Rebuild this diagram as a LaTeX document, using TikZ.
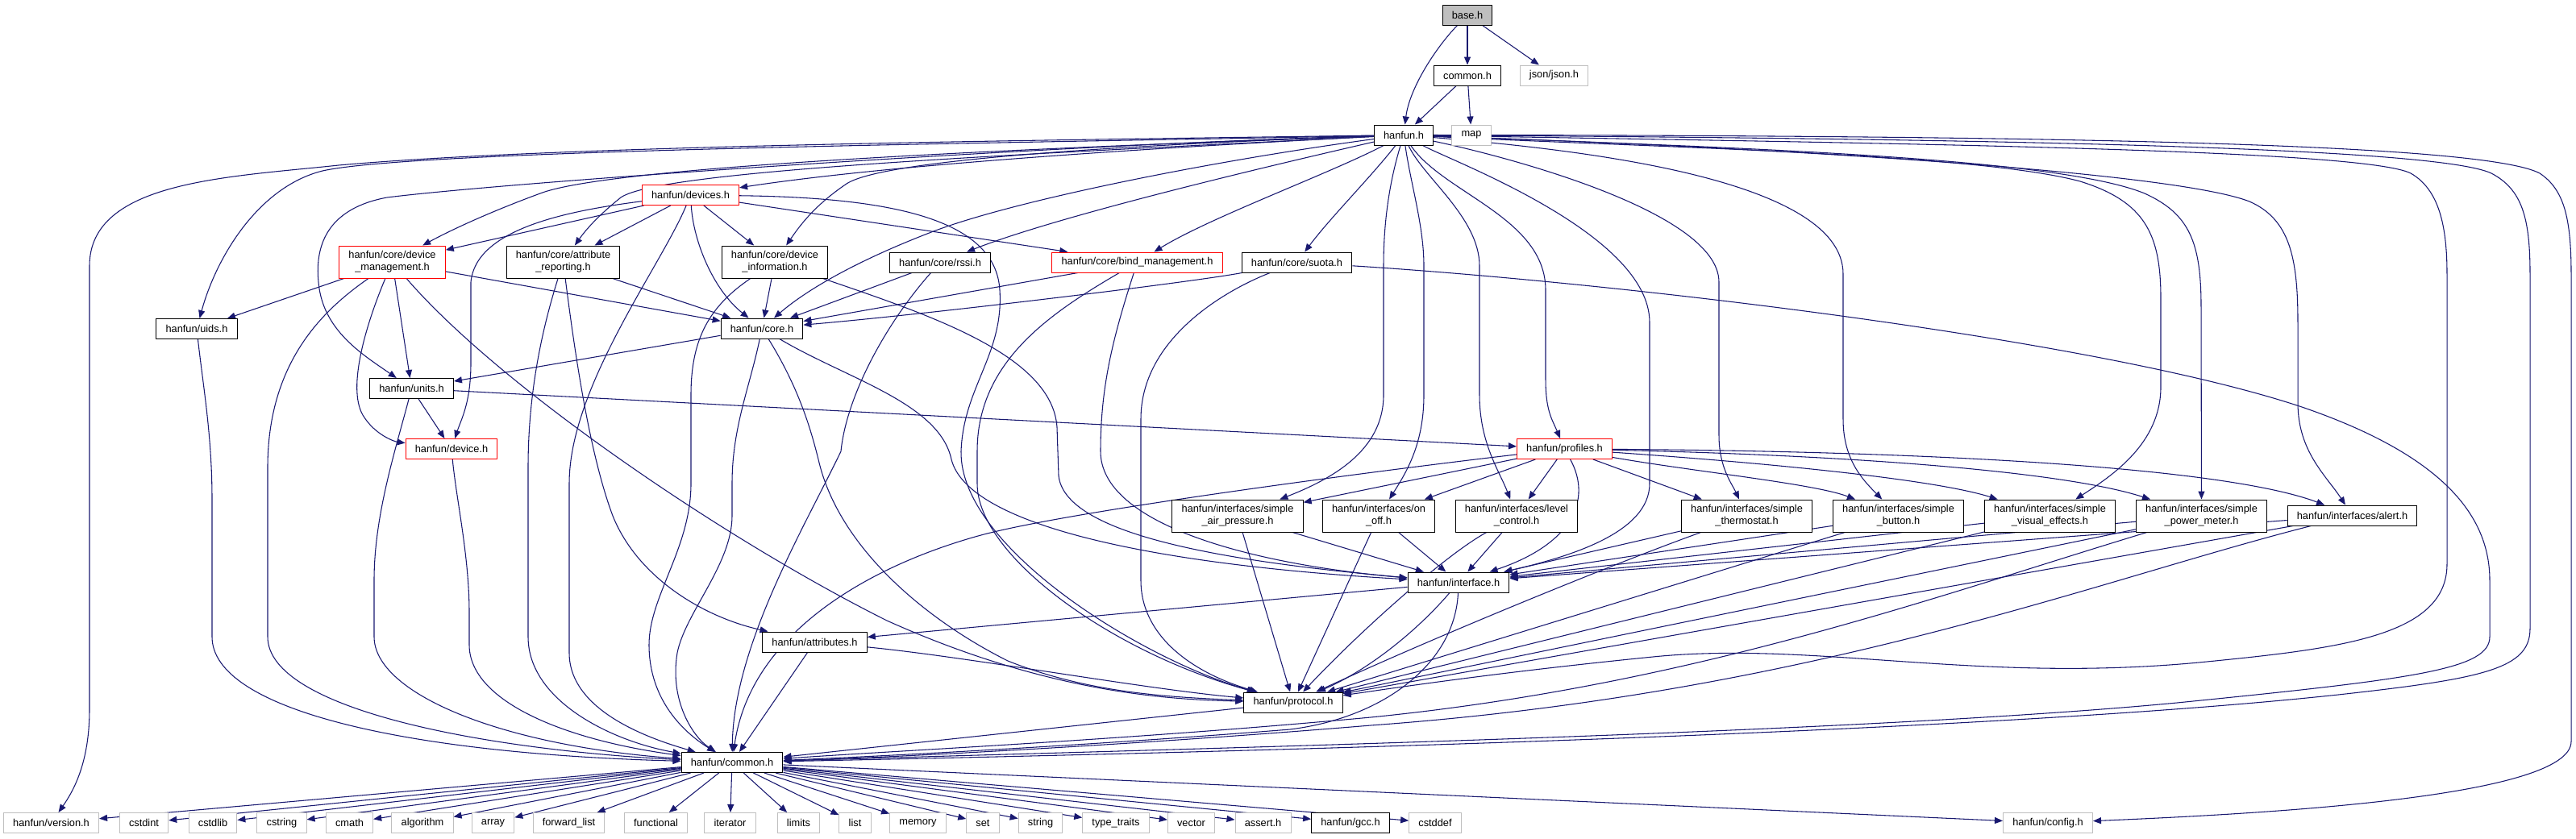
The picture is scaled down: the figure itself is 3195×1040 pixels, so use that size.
\documentclass[tikz,border=0pt]{standalone}
\usepackage{fontspec}
\setmainfont{Liberation Sans}
\usetikzlibrary{arrows.meta,positioning}
\pgfdeclarelayer{background}
\pgfsetlayers{background,main}
\definecolor{edgeblue}{HTML}{191970}
\definecolor{truncred}{HTML}{FF0000}
\definecolor{sysgray}{HTML}{BFBFBF}

\begin{document}
\begin{tikzpicture}[
    x=0.75pt, y=-0.75pt,
    hdr/.style={draw=black, line width=0.75pt, fill=white, minimum height=18.75pt, inner xsep=8.8pt, inner ysep=1pt, align=center, font=\fontsize{9.6}{11.25}\selectfont},
    hdrtall/.style={hdr, minimum height=30pt},
    trunc/.style={hdr, draw=truncred},
    trunctall/.style={hdrtall, draw=truncred},
    sysinc/.style={hdr, draw=sysgray},
    rootfile/.style={hdr, fill=sysgray},
    incl/.style={draw=edgeblue, line width=0.8pt, -{Triangle[length=7.5pt,width=6pt]}}
]
\useasboundingbox (0,0) rectangle (3195,1040);

% Top files
\node[rootfile] (base) at (1820,18.5) {base.h};
\node[hdr] (commonh) at (1820,93.5) {common.h};
\node[sysinc] (jsonh) at (1927.5,93.5) {json/json.h};
\node[hdr] (hanfunh) at (1741,167.5) {hanfun.h};
\node[sysinc] (maph) at (1825,167.5) {map};

% Core services
\node[trunc] (devicesh) at (856.5,242) {hanfun/devices.h};
\node[trunctall] (devmgmt) at (486.5,325) {hanfun/core/device\\\_management.h};
\node[hdrtall] (attrrep) at (698.5,325) {hanfun/core/attribute\\\_reporting.h};
\node[hdrtall] (devinfo) at (961,325) {hanfun/core/device\\\_information.h};
\node[hdr] (rssih) at (1166,325.5) {hanfun/core/rssi.h};
\node[trunc] (bindmgmt) at (1410.5,325.5) {hanfun/core/bind\_management.h};
\node[hdr] (suotah) at (1608.5,325.5) {hanfun/core/suota.h};
\node[hdr] (uidsh) at (244,408) {hanfun/uids.h};
\node[hdr] (coreh) at (945,407.5) {hanfun/core.h};
\node[hdr] (unitsh) at (510.5,482) {hanfun/units.h};
\node[trunc] (deviceh) at (560,557) {hanfun/device.h};

% Profiles and interfaces
\node[trunc] (profilesh) at (1940.5,557) {hanfun/profiles.h};
\node[hdrtall] (airpress) at (1535,640) {hanfun/interfaces/simple\\\_air\_pressure.h};
\node[hdrtall] (onoff) at (1710,640) {hanfun/interfaces/on\\\_off.h};
\node[hdrtall] (levelctl) at (1881,640) {hanfun/interfaces/level\\\_control.h};
\node[hdrtall] (thermostat) at (2166.5,640) {hanfun/interfaces/simple\\\_thermostat.h};
\node[hdrtall] (button) at (2354.5,640) {hanfun/interfaces/simple\\\_button.h};
\node[hdrtall] (visualfx) at (2542.5,640) {hanfun/interfaces/simple\\\_visual\_effects.h};
\node[hdrtall] (powermeter) at (2730.5,640) {hanfun/interfaces/simple\\\_power\_meter.h};
\node[hdr] (alerth) at (2917.5,639.5) {hanfun/interfaces/alert.h};
\node[hdr] (interfaceh) at (1809,722.5) {hanfun/interface.h};
\node[hdr] (attributesh) at (1010.5,796.5) {hanfun/attributes.h};
\node[hdr] (protocolh) at (1604,871.5) {hanfun/protocol.h};
\node[hdr] (hfcommon) at (908,946) {hanfun/common.h};

% System headers
\node[sysinc] (version) at (63.5,1021) {hanfun/version.h};
\node[sysinc] (cstdint) at (178.5,1021) {cstdint};
\node[sysinc] (cstdlib) at (264,1021) {cstdlib};
\node[sysinc] (cstring) at (349.5,1021) {cstring};
\node[sysinc] (cmath) at (433.5,1021) {cmath};
\node[sysinc] (algorithm) at (524,1021) {algorithm};
\node[sysinc] (array) at (611.5,1021) {array};
\node[sysinc] (fwdlist) at (705.5,1021) {forward\_list};
\node[sysinc] (functional) at (813.5,1021) {functional};
\node[sysinc] (iterator) at (905.5,1021) {iterator};
\node[sysinc] (limits) at (990.5,1021) {limits};
\node[sysinc] (list) at (1060.5,1021) {list};
\node[sysinc] (memory) at (1138.5,1021) {memory};
\node[sysinc] (set) at (1219,1021) {set};
\node[sysinc] (string) at (1290.5,1021) {string};
\node[sysinc] (typetraits) at (1384,1021) {type\_traits};
\node[sysinc] (vector) at (1477.5,1021) {vector};
\node[sysinc] (asserth) at (1566.5,1021) {assert.h};
\node[hdr] (gcch) at (1675,1021) {hanfun/gcc.h};
\node[sysinc] (cstddef) at (1780,1021) {cstddef};
\node[sysinc] (config) at (2540,1021) {hanfun/config.h};

\begin{pgfonlayer}{background}
% base.h and common.h
\draw[incl] (base) .. controls (1780,60) and (1748,110) .. (hanfunh);
\draw[incl] (base) -- (commonh);
\draw[incl] (base) -- (jsonh);
\draw[incl] (commonh) -- (hanfunh);
\draw[incl] (commonh) -- (maph);

% hanfun.h
\draw[incl] (hanfunh) .. controls (1300,174) and (700,180) .. (420,205) .. controls (280,220) and (111,225) .. (111,330) -- (111,880) .. controls (111,945) and (92,980) .. (version);
\draw[incl] (hanfunh) .. controls (1300,177) and (520,185) .. (400,212) .. controls (320,232) and (268,320) .. (uidsh);
\draw[incl] (hanfunh) .. controls (1300,183) and (760,205) .. (670,240) .. controls (610,262) and (560,285) .. (devmgmt);
\draw[incl] (hanfunh) .. controls (1300,180) and (640,225) .. (480,245) .. controls (410,258) and (390,300) .. (395,350) .. controls (400,410) and (450,440) .. (unitsh);
\draw[incl] (hanfunh) .. controls (1300,190) and (820,210) .. (770,245) .. controls (745,265) and (728,283) .. (attrrep);
\draw[incl] (hanfunh) .. controls (1400,185) and (1100,205) .. (devicesh);
\draw[incl] (hanfunh) .. controls (1450,178) and (1100,195) .. (1050,228) .. controls (1010,255) and (992,280) .. (devinfo);
\draw[incl] (hanfunh) .. controls (1500,200) and (1250,250) .. (1150,290) .. controls (1060,325) and (1000,360) .. (coreh);
\draw[incl] (hanfunh) .. controls (1600,200) and (1320,265) .. (rssih);
\draw[incl] (hanfunh) .. controls (1650,215) and (1500,270) .. (bindmgmt);
\draw[incl] (hanfunh) .. controls (1700,220) and (1650,270) .. (suotah);
\draw[incl] (hanfunh) .. controls (1790,240) and (1917,270) .. (1917,360) -- (1917,470) .. controls (1917,510) and (1925,520) .. (profilesh);
\draw[incl] (hanfunh) .. controls (1722,230) and (1716,280) .. (1716,330) -- (1716,490) .. controls (1716,560) and (1650,595) .. (airpress);
\draw[incl] (hanfunh) .. controls (1750,230) and (1766,280) .. (1766,330) -- (1766,490) .. controls (1766,550) and (1745,585) .. (onoff);
\draw[incl] (hanfunh) .. controls (1765,220) and (1835,270) .. (1835,330) -- (1835,490) .. controls (1835,550) and (1860,585) .. (levelctl);
\draw[incl] (hanfunh) .. controls (1800,200) and (2046,290) .. (2046,400) -- (2046,600) .. controls (2046,660) and (1950,690) .. (interfaceh);
\draw[incl] (hanfunh) .. controls (1850,190) and (2132,260) .. (2132,350) -- (2132,540) .. controls (2132,580) and (2148,600) .. (thermostat);
\draw[incl] (hanfunh) .. controls (1950,185) and (2286,220) .. (2286,340) -- (2286,520) .. controls (2286,570) and (2310,595) .. (button);
\draw[incl] (hanfunh) .. controls (2050,183) and (2450,190) .. (2580,225) .. controls (2660,250) and (2680,290) .. (2680,370) -- (2680,480) .. controls (2680,550) and (2620,590) .. (visualfx);
\draw[incl] (hanfunh) .. controls (2150,183) and (2550,195) .. (2660,240) .. controls (2715,265) and (2730,300) .. (2730,380) -- (powermeter);
\draw[incl] (hanfunh) .. controls (2250,185) and (2700,215) .. (2790,250) .. controls (2840,272) and (2850,320) .. (2850,400) -- (2850,500) .. controls (2850,560) and (2885,590) .. (alerth);
\draw[incl] (hanfunh) .. controls (2350,178) and (2930,185) .. (2990,215) .. controls (3025,235) and (3035,280) .. (3035,340) -- (3035,700) .. controls (3035,790) and (2900,805) .. (2727,822) .. controls (2450,848) and (2250,795) .. (2050,815) .. controls (1850,835) and (1720,855) .. (protocolh);
\draw[incl] (hanfunh) .. controls (2450,172) and (3020,182) .. (3090,215) .. controls (3128,235) and (3138,270) .. (3138,340) -- (3138,780) .. controls (3138,830) and (3080,842) .. (2900,862) .. controls (2500,905) and (1700,930) .. (hfcommon);
\draw[incl] (hanfunh) .. controls (2550,168) and (3080,178) .. (3150,215) .. controls (3180,235) and (3189,270) .. (3189,340) -- (3189,920) .. controls (3189,990) and (2800,1010) .. (config);

% devices.h
\draw[incl] (devicesh) -- (devmgmt);
\draw[incl] (devicesh) -- (attrrep);
\draw[incl] (devicesh) -- (devinfo);
\draw[incl] (devicesh) .. controls (860,300) and (885,360) .. (coreh);
\draw[incl] (devicesh) .. controls (700,262) and (590,285) .. (584,350) -- (584,450) .. controls (584,500) and (572,520) .. (deviceh);
\draw[incl] (devicesh) -- (bindmgmt);
\draw[incl] (devicesh) .. controls (820,330) and (706,480) .. (706,600) -- (706,810) .. controls (706,880) and (800,915) .. (hfcommon);
\draw[incl] (devicesh) .. controls (1100,245) and (1235,270) .. (1240,360) .. controls (1245,440) and (1195,480) .. (1192,560) .. controls (1190,680) and (1420,820) .. (protocolh);

% core/device_management.h
\draw[incl] (devmgmt) -- (uidsh);
\draw[incl] (devmgmt) .. controls (400,385) and (332,450) .. (332,580) -- (332,790) .. controls (332,880) and (600,930) .. (hfcommon);
\draw[incl] (devmgmt) .. controls (455,400) and (430,480) .. (450,515) .. controls (465,540) and (490,548) .. (deviceh);
\draw[incl] (devmgmt) -- (unitsh);
\draw[incl] (devmgmt) -- (coreh);
\draw[incl] (devmgmt) .. controls (620,480) and (900,670) .. (1100,770) .. controls (1300,860) and (1450,868) .. (protocolh);

% core/attribute_reporting.h
\draw[incl] (attrrep) -- (coreh);
\draw[incl] (attrrep) .. controls (675,400) and (655,480) .. (655,580) -- (655,790) .. controls (655,870) and (760,920) .. (hfcommon);
\draw[incl] (attrrep) .. controls (712,430) and (730,560) .. (760,640) .. controls (790,715) and (870,765) .. (attributesh);

% core/device_information.h
\draw[incl] (devinfo) -- (coreh);
\draw[incl] (devinfo) .. controls (880,380) and (857,420) .. (857,490) -- (857,600) .. controls (857,680) and (805,740) .. (805,800) .. controls (805,870) and (850,910) .. (hfcommon);
\draw[incl] (devinfo) .. controls (1150,390) and (1305,440) .. (1311,530) -- (1313,590) .. controls (1320,660) and (1500,695) .. (interfaceh);

% core.h
\draw[incl] (coreh) -- (unitsh);
\draw[incl] (coreh) .. controls (930,480) and (908,530) .. (908,600) -- (908,640) .. controls (908,700) and (850,760) .. (840,810) .. controls (830,870) and (860,915) .. (hfcommon);
\draw[incl] (coreh) .. controls (990,480) and (1005,530) .. (1015,570) .. controls (1040,680) and (1150,770) .. (1250,820) .. controls (1350,860) and (1450,865) .. (protocolh);
\draw[incl] (coreh) .. controls (1050,470) and (1165,500) .. (1180,570) .. controls (1200,650) and (1420,700) .. (interfaceh);

% core/rssi.h
\draw[incl] (rssih) -- (coreh);
\draw[incl] (rssih) .. controls (1100,400) and (1050,490) .. (1043,560) .. controls (1000,650) and (910,800) .. (hfcommon);

% core/bind_management.h
\draw[incl] (bindmgmt) -- (coreh);
\draw[incl] (bindmgmt) .. controls (1300,390) and (1212,450) .. (1212,560) -- (1212,600) .. controls (1212,690) and (1380,810) .. (protocolh);
\draw[incl] (bindmgmt) .. controls (1380,420) and (1365,480) .. (1365,560) .. controls (1365,650) and (1550,700) .. (interfaceh);

% core/suota.h
\draw[incl] (suotah) .. controls (1480,350) and (1150,390) .. (coreh);
\draw[incl] (suotah) .. controls (1520,360) and (1415,420) .. (1415,520) -- (1415,720) .. controls (1415,790) and (1480,835) .. (protocolh);
\draw[incl] (suotah) .. controls (2000,350) and (2600,420) .. (2855,505) .. controls (3030,565) and (3088,640) .. (3088,720) -- (3088,790) .. controls (3088,830) and (3000,842) .. (2700,872) .. controls (2300,910) and (1500,928) .. (hfcommon);

% uids.h, units.h, device.h
\draw[incl] (uidsh) .. controls (252,480) and (263,540) .. (263,620) -- (263,790) .. controls (263,880) and (500,935) .. (hfcommon);
\draw[incl] (unitsh) -- (deviceh);
\draw[incl] (unitsh) .. controls (490,560) and (464,640) .. (464,720) -- (464,790) .. controls (464,860) and (620,925) .. (hfcommon);
\draw[incl] (unitsh) -- (profilesh);
\draw[incl] (deviceh) .. controls (566,620) and (582,690) .. (582,760) -- (582,800) .. controls (582,870) and (700,918) .. (hfcommon);

% profiles.h
\draw[incl] (profilesh) -- (airpress);
\draw[incl] (profilesh) -- (onoff);
\draw[incl] (profilesh) -- (levelctl);
\draw[incl] (profilesh) .. controls (1975,620) and (1950,675) .. (interfaceh);
\draw[incl] (profilesh) -- (thermostat);
\draw[incl] (profilesh) .. controls (2100,585) and (2250,600) .. (button);
\draw[incl] (profilesh) .. controls (2200,575) and (2400,595) .. (visualfx);
\draw[incl] (profilesh) .. controls (2300,565) and (2560,585) .. (powermeter);
\draw[incl] (profilesh) .. controls (2400,560) and (2760,580) .. (alerth);
\draw[incl] (profilesh) .. controls (1700,585) and (1320,635) .. (1213,665) .. controls (1070,705) and (930,790) .. (hfcommon);

% attributes.h, interface.h, protocol.h
\draw[incl] (attributesh) -- (hfcommon);
\draw[incl] (attributesh) .. controls (1200,815) and (1420,855) .. (protocolh);
\draw[incl] (interfaceh) -- (attributesh);
\draw[incl] (interfaceh) .. controls (1760,780) and (1700,830) .. (protocolh);
\draw[incl] (interfaceh) .. controls (1805,820) and (1720,890) .. (1600,905) .. controls (1350,925) and (1100,938) .. (hfcommon);
\draw[incl] (protocolh) -- (hfcommon);

% interfaces
\draw[incl] (airpress) -- (interfaceh);
\draw[incl] (airpress) -- (protocolh);
\draw[incl] (onoff) -- (interfaceh);
\draw[incl] (onoff) -- (protocolh);
\draw[incl] (levelctl) -- (interfaceh);
\draw[incl] (levelctl) .. controls (1790,690) and (1680,790) .. (protocolh);
\draw[incl] (thermostat) -- (interfaceh);
\draw[incl] (thermostat) .. controls (2000,700) and (1780,790) .. (protocolh);
\draw[incl] (button) -- (interfaceh);
\draw[incl] (button) -- (protocolh);
\draw[incl] (visualfx) -- (interfaceh);
\draw[incl] (visualfx) -- (protocolh);
\draw[incl] (powermeter) -- (interfaceh);
\draw[incl] (powermeter) -- (protocolh);
\draw[incl] (powermeter) .. controls (2400,740) and (2100,850) .. (1700,890) .. controls (1400,918) and (1100,932) .. (hfcommon);
\draw[incl] (alerth) -- (interfaceh);
\draw[incl] (alerth) -- (protocolh);
\draw[incl] (alerth) .. controls (2600,720) and (2250,860) .. (1700,900) .. controls (1400,925) and (1100,940) .. (hfcommon);

% hanfun/common.h
\draw[incl] (hfcommon) -- (version);
\draw[incl] (hfcommon) -- (cstdint);
\draw[incl] (hfcommon) -- (cstdlib);
\draw[incl] (hfcommon) -- (cstring);
\draw[incl] (hfcommon) -- (cmath);
\draw[incl] (hfcommon) -- (algorithm);
\draw[incl] (hfcommon) -- (array);
\draw[incl] (hfcommon) -- (fwdlist);
\draw[incl] (hfcommon) -- (functional);
\draw[incl] (hfcommon) -- (iterator);
\draw[incl] (hfcommon) -- (limits);
\draw[incl] (hfcommon) -- (list);
\draw[incl] (hfcommon) -- (memory);
\draw[incl] (hfcommon) -- (set);
\draw[incl] (hfcommon) -- (string);
\draw[incl] (hfcommon) -- (typetraits);
\draw[incl] (hfcommon) -- (vector);
\draw[incl] (hfcommon) -- (asserth);
\draw[incl] (hfcommon) -- (gcch);
\draw[incl] (hfcommon) -- (cstddef);
\draw[incl] (hfcommon) -- (config);
\end{pgfonlayer}

\end{tikzpicture}
\end{document}
